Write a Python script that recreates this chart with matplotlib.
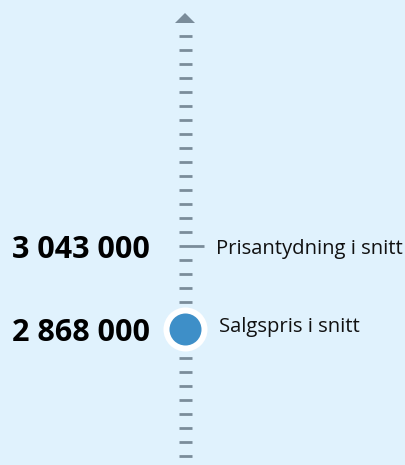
import matplotlib
matplotlib.use("Agg")
import matplotlib.pyplot as plt
import numpy as np

# Data
labels = ["Prisantydning i snitt", "Salgspris i snitt"]
values = [3043000, 2868000]
value_texts = ["3 043 000", "2 868 000"]

BG = "#e0f2fd"
TICK = "#7a8c9a"
BLUE = "#3e8fc8"

W, H = 406, 465
fig = plt.figure(figsize=(W / 100, H / 100), dpi=100, facecolor=BG)
ax = fig.add_axes([0, 0, 1, 1], facecolor=BG)
ax.set_xlim(0, W)

# value scale: 3 043 000 at px 246, 2 868 000 at px 329
px_per_val = (329 - 246) / (values[0] - values[1])
top_val = values[0] + 246 / px_per_val
bot_val = values[0] - (H - 246) / px_per_val
ax.set_ylim(bot_val, top_val)
ax.axis("off")

def px2val(p):
    return top_val - p / px_per_val

# decorative ruler ticks (pixel spacing 14)
tick_px = 36 + 14 * np.arange(31)
circle_px = 246 + (values[0] - values[1]) * px_per_val
for p in tick_px:
    if abs(p - 246) < 3:
        continue
    if abs(p - circle_px) < 22:
        continue
    ax.plot([179, 192], [px2val(p)] * 2, color=TICK, lw=2.0, solid_capstyle="butt")

# arrow at top
ax.fill([175, 195, 185], [px2val(23), px2val(23), px2val(13)], color=TICK, lw=0)

# Prisantydning: long tick
ax.plot([179, 204], [values[0]] * 2, color=TICK, lw=2.0, solid_capstyle="butt")
ax.text(216, values[0], labels[0], fontsize=14.6, family="Open Sans",
        color="#111111", va="center_baseline", ha="left")
ax.text(150, values[0], value_texts[0], fontsize=22, family="Open Sans",
        fontweight="bold", color="#000000", va="center_baseline", ha="right")

# Salgspris: circle
ax.scatter([185], [values[1]], s=(22 * 2 * 0.72) ** 2, color="white", zorder=3, lw=0)
ax.scatter([185], [values[1]], s=(16 * 2 * 0.72) ** 2, color=BLUE, zorder=4, lw=0)
ax.text(219, values[1] + 5 / px_per_val, labels[1], fontsize=14.6, family="Open Sans",
        color="#111111", va="center_baseline", ha="left")
ax.text(150, values[1], value_texts[1], fontsize=22, family="Open Sans",
        fontweight="bold", color="#000000", va="center_baseline", ha="right")

fig.savefig("out.png", dpi=100, facecolor=BG)
